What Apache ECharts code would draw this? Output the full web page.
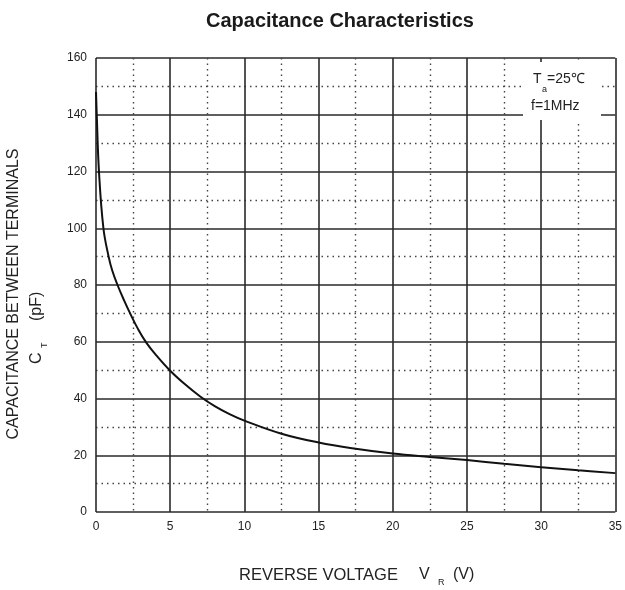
<!DOCTYPE html>
<html>
<head>
<meta charset="utf-8">
<script src="https://cdn.jsdelivr.net/npm/echarts@6/dist/echarts.min.js"></script>
<style>html,body{margin:0;padding:0;background:#fff;}#c{width:625px;height:590px;}</style>
</head>
<body>
<div id="c"></div>
<script>
var voltage = [0, 0.05, 0.2, 0.5, 0.85, 1.1, 1.45, 1.9, 2.3, 2.8, 3.4, 4.1, 5, 6, 7, 8, 9, 10, 12.5, 15, 17.5, 20, 22.5, 25, 27.5, 30, 32.5, 35];
var capacitance = [148, 140, 120, 100, 90, 85, 80, 74.5, 70, 64.8, 59.6, 55.0, 49.8, 45, 40.8, 37.3, 34.5, 32.2, 27.6, 24.5, 22.3, 20.6, 19.4, 18.3, 17, 15.8, 14.7, 13.7];
var xTicks = [0, 5, 10, 15, 20, 25, 30, 35];
var yTicks = [0, 20, 40, 60, 80, 100, 120, 140, 160];
var titleText = 'Capacitance Characteristics';

var FONT = 'Liberation Sans, Arial, sans-serif';
var chart = echarts.init(document.getElementById('c'));
var pts = voltage.map(function (v, i) { return [v, capacitance[i]]; });

var major = { show: true, lineStyle: { color: '#2a2a2a', width: 1.6, type: 'solid' } };
var minor = { show: true, lineStyle: { color: '#444', width: 1.4, type: [1.5, 4] } };

chart.setOption({
  animation: false,
  backgroundColor: '#fff',
  title: {
    text: titleText, left: 201, top: 6,
    textStyle: { fontFamily: FONT, fontWeight: 'bold', fontSize: 20, color: '#1a1a1a' }
  },
  grid: { left: 96, right: 8, top: 58, bottom: 78 },
  xAxis: {
    type: 'value', min: xTicks[0], max: xTicks[xTicks.length - 1], interval: 5,
    axisLine: { show: false }, axisTick: { show: false },
    axisLabel: { margin: 9, fontFamily: FONT, fontSize: 12, color: '#222' },
    splitLine: major,
    minorTick: { show: false, splitNumber: 2 },
    minorSplitLine: minor
  },
  yAxis: {
    type: 'value', min: yTicks[0], max: yTicks[yTicks.length - 1], interval: 20,
    axisLine: { show: false }, axisTick: { show: false },
    axisLabel: { margin: 9, fontFamily: FONT, fontSize: 12, color: '#222' },
    splitLine: major,
    minorTick: { show: false, splitNumber: 2 },
    minorSplitLine: minor
  },
  series: [{
    type: 'line', data: pts, showSymbol: false, smooth: 0.4,
    lineStyle: { color: '#111', width: 2 }, z: 5
  }],
  graphic: [
    { type: 'rect', shape: { x: 523, y: 62, width: 78, height: 58 }, style: { fill: '#fff' }, z: 10 },
    { type: 'text', x: 533, y: 79, style: { text: 'T', fontFamily: FONT, fontSize: 14, fill: '#222', textVerticalAlign: 'middle' }, z: 11 },
    { type: 'text', x: 542, y: 90, style: { text: 'a', fontFamily: FONT, fontSize: 9, fill: '#222', textVerticalAlign: 'middle' }, z: 11 },
    { type: 'text', x: 547, y: 79, style: { text: '=25℃', fontFamily: FONT, fontSize: 14, fill: '#222', textVerticalAlign: 'middle' }, z: 11 },
    { type: 'text', x: 531, y: 106, style: { text: 'f=1MHz', fontFamily: FONT, fontSize: 14, fill: '#222', textVerticalAlign: 'middle' }, z: 11 },
    // x axis name
    { type: 'text', x: 239, y: 575, style: { text: 'REVERSE VOLTAGE', fontFamily: FONT, fontSize: 16.5, fill: '#222', textVerticalAlign: 'middle' } },
    { type: 'text', x: 419, y: 575, style: { text: 'V', fontFamily: FONT, fontSize: 16, fill: '#222', textVerticalAlign: 'middle' } },
    { type: 'text', x: 438, y: 583, style: { text: 'R', fontFamily: FONT, fontSize: 9, fill: '#222', textVerticalAlign: 'middle' } },
    { type: 'text', x: 453, y: 575, style: { text: '(V)', fontFamily: FONT, fontSize: 16, fill: '#222', textVerticalAlign: 'middle' } },
    // y axis name
    { type: 'text', x: 14, y: 294, rotation: Math.PI / 2, style: { text: 'CAPACITANCE BETWEEN TERMINALS', fontFamily: FONT, fontSize: 16, fill: '#222', textAlign: 'center', textVerticalAlign: 'middle' } },
    { type: 'text', x: 37, y: 364, rotation: Math.PI / 2, style: { text: 'C', fontFamily: FONT, fontSize: 16, fill: '#222', textAlign: 'left', textVerticalAlign: 'middle' } },
    { type: 'text', x: 45, y: 348, rotation: Math.PI / 2, style: { text: 'T', fontFamily: FONT, fontSize: 9, fill: '#222', textAlign: 'left', textVerticalAlign: 'middle' } },
    { type: 'text', x: 37, y: 321, rotation: Math.PI / 2, style: { text: '(pF)', fontFamily: FONT, fontSize: 16, fill: '#222', textAlign: 'left', textVerticalAlign: 'middle' } }
  ]
});
</script>
</body>
</html>
